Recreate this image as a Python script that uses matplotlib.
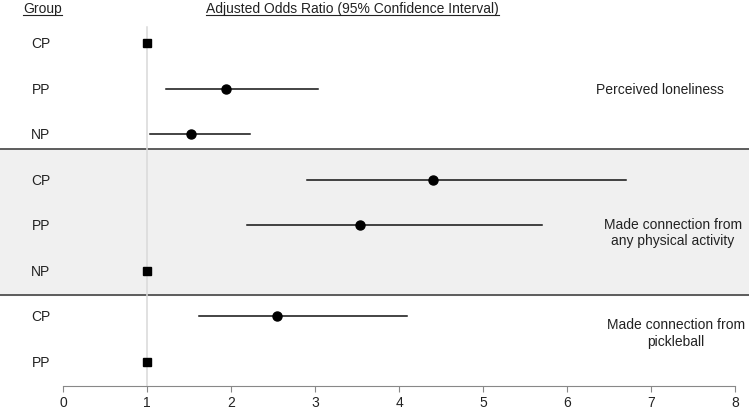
import numpy as np
import matplotlib
matplotlib.use("Agg")
import matplotlib.pyplot as plt

plt.rcParams['font.family'] = ['Liberation Sans', 'DejaVu Sans']

# rows from top to bottom
groups = ["CP", "PP", "NP", "CP", "PP", "NP", "CP", "PP"]
odds = [1.0, 1.94, 1.52, 4.41, 3.53, 1.0, 2.55, 1.0]
ci_low = [np.nan, 1.23, 1.04, 2.91, 2.19, np.nan, 1.62, np.nan]
ci_high = [np.nan, 3.04, 2.23, 6.70, 5.70, np.nan, 4.09, np.nan]
is_ref = [True, False, False, False, False, True, False, True]
outcomes = ["Perceived loneliness",
            "Made connection from\nany physical activity",
            "Made connection from\npickleball"]
outcome_rows = [2, 5.15, 7.35]
outcome_x = [7.11, 7.26, 7.30]
xticks = [0, 1, 2, 3, 4, 5, 6, 7, 8]

rows = np.arange(1, len(groups) + 1)

fig = plt.figure(figsize=(7.49, 4.10), dpi=100)
ax = fig.add_axes([0, 23 / 410, 1, 387 / 410])
ax.set_xlim(-63 / 84, 8 + 14 / 84)
ax.set_ylim(8.527, 1 - 44 / 45.57)

# shaded middle block and separators
ax.axhspan(3.33, 6.53, color="#f0f0f0", zorder=0)
ax.axhline(3.33, color="#333333", lw=1.1, zorder=1)
ax.axhline(6.53, color="#333333", lw=1.1, zorder=1)

# reference line at OR = 1
ax.plot([1, 1], [0.65, 8.527], color="#d9d9d9", lw=1.1, zorder=1)

for r, o, lo, hi, ref in zip(rows, odds, ci_low, ci_high, is_ref):
    if ref:
        ax.plot(o, r, marker="s", color="black", ms=6.2, zorder=3)
    else:
        ax.plot([lo, hi], [r, r], color="#111111", lw=1.1, zorder=2)
        ax.plot(o, r, marker="o", color="black", ms=6.5, zorder=3)

for r, g in zip(rows, groups):
    ax.text(-0.262, r, g, ha="center", va="center", fontsize=10, color="#222222")

for name, r, x in zip(outcomes, outcome_rows, outcome_x):
    ax.text(x, r, name, ha="center", va="center", fontsize=10, color="#222222",
            linespacing=1.25)

h1 = ax.text(-0.476, 0.23, "Group", ha="left", va="center", fontsize=10, color="#222222")
h2 = ax.text(1.70, 0.23, "Adjusted Odds Ratio (95% Confidence Interval)",
             ha="left", va="center", fontsize=10, color="#222222")

# underline the headers
fig.canvas.draw()
inv = ax.transData.inverted()
for t in (h1, h2):
    bb = t.get_window_extent()
    (x0, y0), (x1, _) = inv.transform([[bb.x0, bb.y0], [bb.x1, bb.y0]])
    ax.plot([x0, x1], [y0, y0], color="#222222", lw=0.8, clip_on=False)

for s in ["top", "left", "right"]:
    ax.spines[s].set_visible(False)
ax.spines["bottom"].set_bounds(0, 8)
ax.spines["bottom"].set_color("#888888")
ax.set_xticks(xticks)
ax.set_yticks([])
ax.tick_params(axis="x", length=4.3, color="#888888", pad=2.5,
               labelsize=10, labelcolor="#222222")

fig.savefig("out.png", dpi=100)
plt.close(fig)
